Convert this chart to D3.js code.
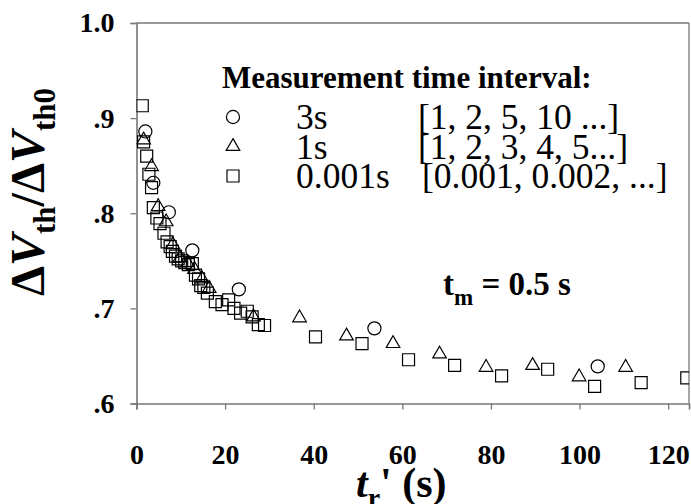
<!DOCTYPE html>
<html>
<head>
<meta charset="utf-8">
<script src="https://cdn.jsdelivr.net/npm/d3@7"></script>
<style>
  body { margin: 0; background: #fff; }
</style>
</head>
<body>
<div id="chart"></div>
<script>
// measurement every 3 s
const seriesCircle = [
  [2.0, 0.886], [3.8, 0.832], [7.3, 0.801], [12.6, 0.761],
  [23.1, 0.720], [53.7, 0.679], [104.1, 0.639]
];
// measurement every 1 s
const seriesTriangle = [
  [1.6, 0.877], [3.4, 0.849], [4.9, 0.807], [6.7, 0.791], [8.2, 0.767],
  [9.8, 0.753], [11.5, 0.748], [13.1, 0.741], [14.8, 0.731], [16.4, 0.721],
  [26.4, 0.691], [36.8, 0.690], [47.4, 0.671], [57.9, 0.663], [68.4, 0.652],
  [78.9, 0.638], [89.4, 0.640], [99.9, 0.628], [110.4, 0.638]
];
// measurement every 0.001 s
const seriesSquare = [
  [1.3, 0.913], [1.6, 0.875], [2.3, 0.860], [2.8, 0.841], [3.4, 0.827],
  [3.8, 0.806], [4.6, 0.795], [5.3, 0.789], [6.2, 0.779], [6.9, 0.770],
  [7.6, 0.765], [8.1, 0.760], [8.8, 0.755], [9.4, 0.752], [10.2, 0.750],
  [10.9, 0.748], [11.7, 0.746], [12.6, 0.747], [13.3, 0.735], [14.0, 0.731],
  [14.5, 0.724], [15.2, 0.722], [16.0, 0.716], [17.8, 0.707], [19.3, 0.704],
  [20.8, 0.709], [22.0, 0.700], [23.5, 0.695], [25.0, 0.697], [26.1, 0.691],
  [27.5, 0.683], [28.9, 0.682],
  [40.4, 0.670], [50.9, 0.663], [61.4, 0.646], [71.8, 0.640], [82.4, 0.629],
  [92.8, 0.636], [103.4, 0.618], [113.9, 0.622], [124.2, 0.627]
];

const legendLabels = ['3s', '1s', '0.001s'];
const legendRanges = ['[1, 2, 5, 10 ...]', '[1, 2, 3, 4, 5...]', '[0.001, 0.002, ...]'];
const xTicks = [0, 20, 40, 60, 80, 100, 120];
const yTicks = [0.6, 0.7, 0.8, 0.9, 1.0];

const width = 691, height = 504;
const margin = {top: 23, right: 2, bottom: 100.5, left: 136.5};
const serif = '"Liberation Serif"';

const svg = d3.select('#chart').append('svg')
    .attr('width', width)
    .attr('height', height)
    .style('font-family', serif);

const x = d3.scaleLinear().domain([0, 124.7]).range([margin.left, width - margin.right]);
const y = d3.scaleLinear().domain([0.6, 1.0]).range([height - margin.bottom, margin.top]);

const axisColor = '#777';

// frame lines on top and right
svg.append('line')
    .attr('x1', x(0)).attr('x2', x(124.7))
    .attr('y1', y(1.0)).attr('y2', y(1.0))
    .attr('stroke', axisColor).attr('stroke-width', 1.3);
svg.append('line')
    .attr('x1', x(124.7)).attr('x2', x(124.7))
    .attr('y1', y(1.0)).attr('y2', y(0.6))
    .attr('stroke', axisColor).attr('stroke-width', 1.3);

// axes
const xAxis = svg.append('g')
    .attr('transform', `translate(0, ${y(0.6)})`)
    .call(d3.axisBottom(x).tickValues(xTicks).tickSize(6).tickPadding(54));
const yAxis = svg.append('g')
    .attr('transform', `translate(${x(0)}, 0)`)
    .call(d3.axisLeft(y).tickValues(yTicks).tickSize(6).tickPadding(16)
        .tickFormat(d => d === 1 ? '1.0' : d3.format('.1f')(d).replace(/^0/, '')));

[xAxis, yAxis].forEach(g => {
    g.attr('font-family', null);
    g.select('.domain').attr('stroke', axisColor).attr('stroke-width', 1.6);
    g.selectAll('.tick line').attr('stroke', axisColor).attr('stroke-width', 1.3);
    g.selectAll('.tick text')
        .attr('fill', '#000')
        .style('font-family', serif)
        .style('font-weight', 'bold')
        .style('font-size', '28px');
});
xAxis.selectAll('.tick text').attr('dy', '0');

// data markers
svg.append('clipPath').attr('id', 'plotclip')
  .append('rect')
    .attr('x', x(0)).attr('y', y(1.0))
    .attr('width', x(124.7) - x(0)).attr('height', y(0.6) - y(1.0));

const plot = svg.append('g').attr('clip-path', 'url(#plotclip)');

const symCircle = d3.symbol().type(d3.symbolCircle).size(135);
const symTriangle = d3.symbol().type(d3.symbolTriangle).size(80);
const symSquare = d3.symbol().type(d3.symbolSquare).size(144);

function drawSeries(data, sym) {
    plot.selectAll(null)
        .data(data)
        .enter()
        .append('path')
        .attr('transform', d => `translate(${x(d[0])}, ${y(d[1])})`)
        .attr('d', sym)
        .attr('fill', 'none')
        .attr('stroke', '#000')
        .attr('stroke-width', 1.2);
}
drawSeries(seriesSquare, symSquare);
drawSeries(seriesTriangle, symTriangle);
drawSeries(seriesCircle, symCircle);

// legend
const legend = svg.append('g');
legend.append('text')
    .attr('x', 222).attr('y', 88)
    .style('font-family', serif)
    .style('font-weight', 'bold')
    .style('font-size', '31px')
    .text('Measurement time interval:');

const legendSyms = [symCircle, symTriangle, symSquare];
legendLabels.forEach((lab, i) => {
    const cy = 117 + i * 29.5;
    legend.append('path')
        .attr('transform', `translate(233, ${cy})`)
        .attr('d', legendSyms[i])
        .attr('fill', 'none')
        .attr('stroke', '#000')
        .attr('stroke-width', 1.2);
    legend.append('text')
        .attr('x', 296).attr('y', cy + 12)
        .style('font-family', serif)
        .style('font-size', '35.5px')
        .text(lab);
    legend.append('text')
        .attr('x', i === 2 ? 422 : 418).attr('y', cy + 12)
        .style('font-family', serif)
        .style('font-size', '35.5px')
        .text(legendRanges[i]);
});

// t_m annotation
const tm = svg.append('text')
    .attr('x', 443).attr('y', 295)
    .style('font-family', serif)
    .style('font-weight', 'bold')
    .style('font-size', '33px');
tm.append('tspan').text('t');
tm.append('tspan').attr('dy', 10).style('font-size', '23px').text('m');
tm.append('tspan').attr('dy', -10).text(' = 0.5 s');

// x axis title
const xt = svg.append('text')
    .attr('x', 356).attr('y', 497)
    .style('font-family', serif)
    .style('font-weight', 'bold')
    .style('font-size', '42px');
xt.append('tspan').style('font-style', 'italic').text('t');
xt.append('tspan').attr('dy', 10).style('font-size', '28px').text('r');
xt.append('tspan').attr('dy', -10).text("' (s)");

// y axis title
const yt = svg.append('text')
    .attr('transform', 'translate(44, 192) rotate(-90)')
    .attr('text-anchor', 'middle')
    .style('font-family', serif)
    .style('font-weight', 'bold')
    .style('font-size', '48px');
yt.append('tspan').text('Δ');
yt.append('tspan').style('font-style', 'italic').text('V');
yt.append('tspan').attr('dy', 11).style('font-size', '31px').text('th');
yt.append('tspan').attr('dy', -11).text('/Δ');
yt.append('tspan').style('font-style', 'italic').text('V');
yt.append('tspan').attr('dy', 11).style('font-size', '31px').text('th0');
</script>
</body>
</html>
